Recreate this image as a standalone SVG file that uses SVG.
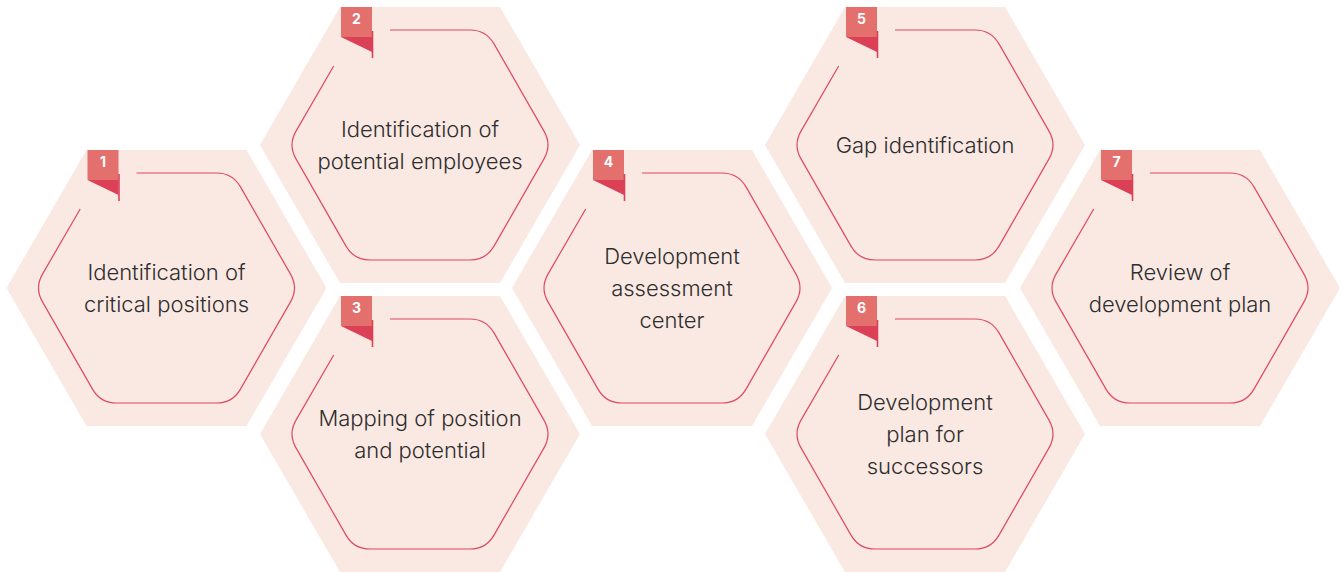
<svg xmlns="http://www.w3.org/2000/svg" xmlns:xlink="http://www.w3.org/1999/xlink" width="1343" height="572" viewBox="0 0 1343 572">
<style>
.hex{fill:#FAE8E2}
.inner{fill:none;stroke:#E0485E;stroke-width:1.2}
.flag{fill:#E4706E}
.fold{fill:#DC4057}
.pole{stroke:#DC4057;stroke-width:1.6}
.num{font-family:Inter,"Liberation Sans",sans-serif;font-weight:700;font-size:14px;fill:#fff;text-anchor:middle}
.lbl{font-family:Inter,"Liberation Sans",sans-serif;font-weight:300;font-size:22px;fill:#2e2e2e;text-anchor:middle}
</style>
<defs>
<polygon id="outer" class="hex" points="-80,-138 80,-138 160,0 80,138 -80,138 -160,0"/>
<path id="inner" class="inner" d="M-30,-115 L50,-115 Q66,-115 74,-101.1 L124,-13.9 Q132,0 124,13.9 L74,101.1 Q66,115 50,115 L-50,115 Q-66,115 -74,101.1 L-124,13.9 Q-132,0 -124,-13.9 L-86.3,-79"/>
<g id="flag">
<rect class="flag" x="-79" y="-138" width="31" height="30"/>
<polygon class="fold" points="-79,-108 -48,-108 -48,-93"/>
<line class="pole" x1="-47.5" y1="-114" x2="-47.5" y2="-87"/>
</g>
</defs>
<g id="node1" transform="translate(166.5,288)">
<use xlink:href="#outer"/><use xlink:href="#inner"/><use xlink:href="#flag"/>
<text class="num" x="-63.5" y="-121">1</text>
<text class="lbl" x="0" y="-8">Identification of</text>
<text class="lbl" x="0" y="24">critical positions</text>
</g>
<g id="node2" transform="translate(420,145)">
<use xlink:href="#outer"/><use xlink:href="#inner"/><use xlink:href="#flag"/>
<text class="num" x="-63.5" y="-121">2</text>
<text class="lbl" x="0" y="-8">Identification of</text>
<text class="lbl" x="0" y="24">potential employees</text>
</g>
<g id="node3" transform="translate(420,434)">
<use xlink:href="#outer"/><use xlink:href="#inner"/><use xlink:href="#flag"/>
<text class="num" x="-63.5" y="-121">3</text>
<text class="lbl" x="0" y="-8">Mapping of position</text>
<text class="lbl" x="0" y="24">and potential</text>
</g>
<g id="node4" transform="translate(672,288)">
<use xlink:href="#outer"/><use xlink:href="#inner"/><use xlink:href="#flag"/>
<text class="num" x="-63.5" y="-121">4</text>
<text class="lbl" x="0" y="-24">Development</text>
<text class="lbl" x="0" y="8">assessment</text>
<text class="lbl" x="0" y="40">center</text>
</g>
<g id="node5" transform="translate(925,145)">
<use xlink:href="#outer"/><use xlink:href="#inner"/><use xlink:href="#flag"/>
<text class="num" x="-63.5" y="-121">5</text>
<text class="lbl" x="0" y="8">Gap identification</text>
</g>
<g id="node6" transform="translate(925,434)">
<use xlink:href="#outer"/><use xlink:href="#inner"/><use xlink:href="#flag"/>
<text class="num" x="-63.5" y="-121">6</text>
<text class="lbl" x="0" y="-24">Development</text>
<text class="lbl" x="0" y="8">plan for</text>
<text class="lbl" x="0" y="40">successors</text>
</g>
<g id="node7" transform="translate(1180,288)">
<use xlink:href="#outer"/><use xlink:href="#inner"/><use xlink:href="#flag"/>
<text class="num" x="-63.5" y="-121">7</text>
<text class="lbl" x="0" y="-8">Review of</text>
<text class="lbl" x="0" y="24">development plan</text>
</g>
<g id="connectors"/>
</svg>
